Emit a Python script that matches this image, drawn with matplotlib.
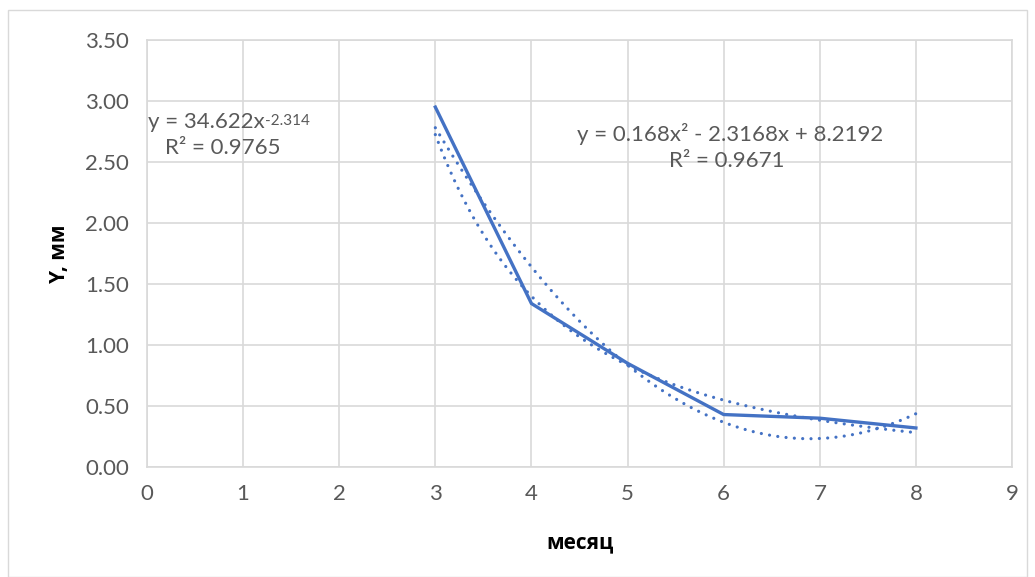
import numpy as np
import matplotlib
matplotlib.use('Agg')
import matplotlib.pyplot as plt
from matplotlib.patches import Rectangle
from matplotlib.transforms import offset_copy

plt.rcParams['font.family'] = ['Lato', 'DejaVu Sans']
plt.rcParams['mathtext.fontset'] = 'custom'
plt.rcParams['mathtext.rm'] = 'Lato'
plt.rcParams['mathtext.it'] = 'Lato'

# data
months = [3, 4, 5, 6, 7, 8]
y_mm = [2.95, 1.34, 0.85, 0.43, 0.40, 0.32]

# trendline coefficients from the labels
pow_a, pow_b = 34.622, -2.314
poly_c = [0.168, -2.3168, 8.2192]

blue = '#4472C4'
grey = '#595959'
grid = '#d9d9d9'
W, H = 1035, 577

fig = plt.figure(figsize=(W / 100, H / 100), dpi=100)
fig.patches.append(Rectangle((8 / W, 0), 1 - 16 / W, 1 - 10 / H, transform=fig.transFigure,
                             fill=False, edgecolor=grid, linewidth=1))
ax = fig.add_axes([147 / W, 1 - 467 / H, 865 / W, 427 / H])

xs = np.linspace(months[0], months[-1], 300)
dots = (0, (0.01, 2.6))
ax.plot(xs, pow_a * xs ** pow_b, color=blue, linestyle=dots, linewidth=2.3,
        dash_capstyle='round')
ax.plot(xs, np.polyval(poly_c, xs), color=blue, linestyle=dots, linewidth=2.3,
        dash_capstyle='round')
ax.plot(months, y_mm, color=blue, linewidth=2.4, solid_joinstyle='miter')

ax.set_xlim(0, 9)
ax.set_ylim(0, 3.5)
ax.set_xticks(range(0, 10))
yt = np.arange(0, 3.51, 0.5)
ax.set_yticks(yt)
ax.set_yticklabels([f'{v:.2f}' for v in yt])
ax.grid(True, color=grid, linewidth=1.2)
ax.set_axisbelow(True)
for s in ax.spines.values():
    s.set_color(grid)
    s.set_linewidth(1.2)
ax.tick_params(length=0, labelsize=16, labelcolor=grey)
ax.tick_params(axis='x', pad=12)
ax.tick_params(axis='y', pad=13)

ax.set_xlabel('месяц', fontsize=15, fontweight='bold', family='Open Sans', color='black')
ax.set_ylabel('Y, мм', fontsize=15, fontweight='bold', family='Open Sans', color='black')
ax.xaxis.label.set_va('center')
ax.yaxis.label.set_va('center')
ax.xaxis.set_label_coords(0.5, (467 - 543) / 427)
ax.yaxis.set_label_coords((60 - 147) / 865, 0.5)

# power trendline label, exponent drawn as a separate smaller text
base = fig.text(148 / W, 1 - 122 / H, 'y = 34.622x', fontsize=16, color=grey,
                ha='left', va='center')
fig.canvas.draw()
bb = base.get_window_extent()
fig.text(bb.x1 / W, (bb.y1 - 9) / H, f'{pow_b}', fontsize=11, color=grey, ha='left', va='center')
fig.text(223 / W, 1 - 148 / H, 'R² = 0.9765', fontsize=16, color=grey, ha='center', va='center')

fig.text(730 / W, 1 - 134 / H, 'y = 0.168x² - 2.3168x + 8.2192', fontsize=16, color=grey,
         ha='center', va='center')
fig.text(727 / W, 1 - 161 / H, 'R² = 0.9671', fontsize=16, color=grey, ha='center', va='center')

fig.savefig('out.png', dpi=100)
